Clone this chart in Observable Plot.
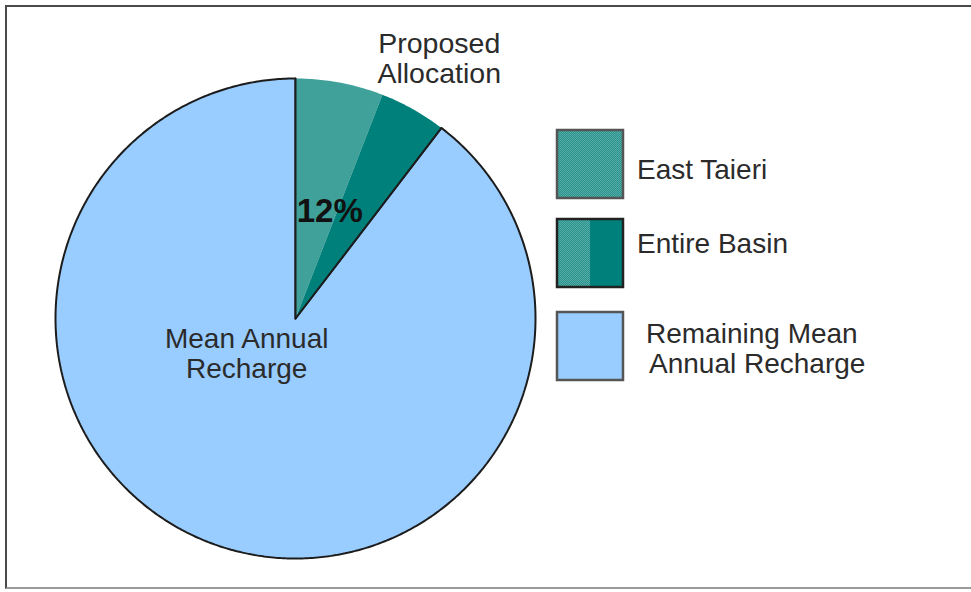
<!DOCTYPE html>
<html>
<head>
<meta charset="utf-8">
<script src="https://cdn.jsdelivr.net/npm/d3@7"></script>
<script src="https://cdn.jsdelivr.net/npm/@observablehq/plot@0.6"></script>
<style>
  html, body { margin: 0; padding: 0; background: #fff; }
  #wrap { position: relative; width: 971px; height: 592px; overflow: hidden; }
  #frame { position: absolute; left: 5px; top: 5px; width: 970px; height: 584px;
           border-left: 2px solid #4a4a4a; border-top: 2px solid #4a4a4a; border-bottom: 2px solid #9a9a9a;
           pointer-events: none; box-sizing: border-box; }
  svg text { font-family: "Liberation Sans", Arial, sans-serif; }
</style>
</head>
<body>
<div id="wrap"><div id="frame"></div></div>
<script>
// ---- data ----
const categories = ["East Taieri", "Entire Basin", "Remaining Mean Annual Recharge"];
const shares = [5.9, 4.5, 89.6];            // percent of mean annual recharge
const allocationLabel = "12%";
const groupLabels = ["Proposed\nAllocation", "Mean Annual\nRecharge"];
const legendLabels = ["East Taieri", "Entire Basin", "Remaining Mean\nAnnual Recharge"];

const data = categories.map((c, i) => ({category: c, value: shares[i]}));
const arcs = d3.pie().sort(null).value(d => d.value)(data);

function slicePoints(a0, a1) {
  const n = Math.max(2, Math.ceil((a1 - a0) / 0.01));
  const pts = [{x: 0, y: 0}];
  for (let i = 0; i <= n; i++) {
    const a = a0 + (a1 - a0) * i / n;
    pts.push({x: Math.sin(a), y: Math.cos(a)});
  }
  pts.push({x: 0, y: 0});
  return pts;
}
const polar = (a, r) => ({x: Math.sin(a) * r, y: Math.cos(a) * r});

const alloc = {start: arcs[0].startAngle, end: arcs[1].endAngle};
const allocMid = (alloc.start + alloc.end) / 2;
const restMid = (arcs[2].startAngle + arcs[2].endAngle) / 2;

const dither = "url(#dither)";
const teal = "#00807a";
const blue = "#99ccff";
const textCol = "#2b2b2b";
const font = "Liberation Sans, Arial, sans-serif";

const plot = Plot.plot({
  width: 971,
  height: 592,
  margin: 0,
  x: {domain: [-1, 1], range: [55, 535], axis: null},
  y: {domain: [-1, 1], range: [558, 78], axis: null},
  marks: [
    Plot.line(slicePoints(arcs[2].startAngle, arcs[2].endAngle), {x: "x", y: "y", fill: blue, stroke: "#1c1c1c", strokeWidth: 2, strokeLinejoin: "miter", curve: "linear"}),
    Plot.line(slicePoints(arcs[0].startAngle, arcs[0].endAngle), {x: "x", y: "y", fill: dither, stroke: "none"}),
    Plot.line(slicePoints(arcs[1].startAngle, arcs[1].endAngle), {x: "x", y: "y", fill: teal, stroke: "none"}),
    Plot.line([{x: 0, y: 0}, polar(arcs[2].startAngle, 1)], {x: "x", y: "y", stroke: "#1c1c1c", strokeWidth: 2}),
    Plot.line([{x: 0, y: 0}, polar(arcs[2].endAngle, 1)], {x: "x", y: "y", stroke: "#1c1c1c", strokeWidth: 2}),
    Plot.text([{...polar(allocMid, 0.47), text: allocationLabel}], {x: "x", y: "y", text: "text", fontSize: 33, fontWeight: "bold", fill: "#111", fontFamily: font, dx: -2}),
    Plot.text([{...polar(allocMid, 1.1), text: groupLabels[0]}], {x: "x", y: "y", text: "text", fontSize: 28.5, lineHeight: 1.06, fill: textCol, fontFamily: font, dx: 59, dy: -10}),
    Plot.text([{...polar(restMid, 0.27), text: groupLabels[1]}], {x: "x", y: "y", text: "text", fontSize: 28, lineHeight: 1.07, fill: textCol, fontFamily: font, dx: -28, dy: -26})
  ]
});

// pattern definition for the dithered teal
const svg = d3.select(plot);
const defs = svg.insert("defs", ":first-child");
const pat = defs.append("pattern").attr("id", "dither").attr("width", 2).attr("height", 2).attr("patternUnits", "userSpaceOnUse");
pat.append("rect").attr("width", 2).attr("height", 2).attr("fill", "#2a938d");
pat.append("rect").attr("width", 1).attr("height", 1).attr("fill", "#55aca7");
pat.append("rect").attr("x", 1).attr("y", 1).attr("width", 1).attr("height", 1).attr("fill", "#55aca7");

// legend
const lg = svg.append("g").attr("class", "legend").attr("text-anchor", "start");
const boxes = [
  {y: 130, border: "#555"},
  {y: 219, border: "#222"},
  {y: 312, border: "#555"}
];
boxes.forEach((b, i) => {
  const g = lg.append("g");
  if (i === 0) {
    g.append("rect").attr("x", 557).attr("y", b.y).attr("width", 66).attr("height", 68).attr("fill", dither);
  } else if (i === 1) {
    g.append("rect").attr("x", 557).attr("y", b.y).attr("width", 66).attr("height", 68).attr("fill", teal);
    g.append("rect").attr("x", 557).attr("y", b.y).attr("width", 33).attr("height", 68).attr("fill", dither);
  } else {
    g.append("rect").attr("x", 557).attr("y", b.y).attr("width", 66).attr("height", 68).attr("fill", blue);
  }
  g.append("rect").attr("x", 557).attr("y", b.y).attr("width", 66).attr("height", 68)
    .attr("fill", "none").attr("stroke", b.border).attr("stroke-width", 2.5);
});
const legendText = [
  {x: 637, y: 179, lines: legendLabels[0].split("\n")},
  {x: 637, y: 253, lines: legendLabels[1].split("\n")},
  {x: 646, y: 343, lines: legendLabels[2].split("\n")}
];
legendText.forEach(t => {
  const tx = lg.append("text").attr("x", t.x).attr("y", t.y).attr("font-size", 28).attr("fill", textCol).attr("text-anchor", "start");
  t.lines.forEach((l, j) => tx.append("tspan").attr("x", t.x + j * 3).attr("dy", j === 0 ? 0 : 30).text(l));
});

document.getElementById("wrap").prepend(plot);
</script>
</body>
</html>
